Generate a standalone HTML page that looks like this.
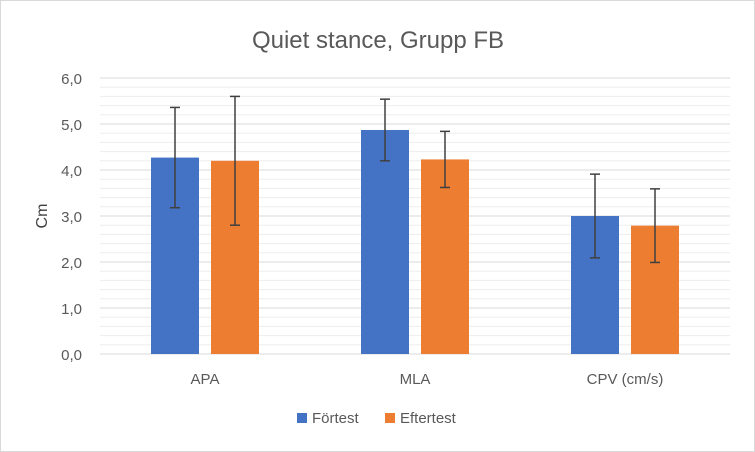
<!DOCTYPE html>
<html><head><meta charset="utf-8"><style>
body{margin:0;background:#fff}
svg{display:block;font-family:"Liberation Sans",sans-serif}
</style></head><body>
<svg id="chart" width="755" height="452">
<rect x="0.5" y="0.5" width="754" height="451" fill="#fff" stroke="#d9d9d9"/>
<text x="378" y="48" text-anchor="middle" font-size="24" fill="#595959">Quiet stance, Grupp FB</text>
<text x="0" y="0" transform="translate(47,216) rotate(-90)" text-anchor="middle" font-size="16" fill="#404040">Cm</text>
<g id="grid"></g><g id="bars"></g><g id="labels"></g>
<rect x="297" y="413" width="10" height="10" fill="#4472c4"/>
<text x="312" y="423" font-size="15" fill="#595959">Förtest</text>
<rect x="385" y="413" width="10" height="10" fill="#ed7d31"/>
<text x="400" y="423" font-size="15" fill="#595959">Eftertest</text>
</svg>
<script>
const categories=["APA","MLA","CPV (cm/s)"];
const forValues=[4.27,4.87,3.0];
const forErrors=[1.09,0.67,0.91];
const eftValues=[4.2,4.23,2.79];
const eftErrors=[1.4,0.61,0.8];
const yTicks=[0,1,2,3,4,5,6];
const NS="http://www.w3.org/2000/svg";
const x0=100,x1=730,y0=354,pxPer=46;
const y=v=>y0-v*pxPer;
const catW=(x1-x0)/categories.length;
const cx=i=>x0+catW*(i+0.5);
function mk(tag,attrs,parent){const e=document.createElementNS(NS,tag);for(const k in attrs)e.setAttribute(k,attrs[k]);parent.appendChild(e);return e;}
const grid=document.getElementById('grid'),bars=document.getElementById('bars'),labels=document.getElementById('labels');
for(let v=0;v<=30;v++){const val=v*0.2;const major=v%5===0;
 const l=mk('line',{x1:x0,x2:x1,y1:y(val),y2:y(val),stroke:major?'#d9d9d9':'#ededed','stroke-width':1},grid);
 
 }
yTicks.forEach(t=>{const tx=mk('text',{x:82,y:y(t)+6,'text-anchor':'end','font-size':15,fill:'#595959'},labels);tx.textContent=t.toFixed(1).replace('.',',');
 
 });
const bw=48;
function bar(i,val,err,dx,color,name){
 const bx=cx(i)+dx;
 const r=mk('rect',{x:bx,y:y(val),width:bw,height:y0-y(val),fill:color},bars);
 
 
 const m=bx+bw/2;
 const g=mk('g',{stroke:'#404040','stroke-width':1.5},bars);
 
 
 mk('line',{x1:m,x2:m,y1:y(val+err),y2:y(val-err)},g);
 mk('line',{x1:m-5,x2:m+5,y1:y(val+err),y2:y(val+err)},g);
 mk('line',{x1:m-5,x2:m+5,y1:y(val-err),y2:y(val-err)},g);
}
categories.forEach((c,i)=>{
 bar(i,forValues[i],forErrors[i],-54,'#4472c4','fortest');
 bar(i,eftValues[i],eftErrors[i],6,'#ed7d31','eftertest');
 const t=mk('text',{x:cx(i),y:384,'text-anchor':'middle','font-size':15,fill:'#595959'},labels);t.textContent=c;
 
 
});
const ax=mk('line',{x1:x0,x2:x1,y1:y0,y2:y0,stroke:'#d9d9d9','stroke-width':1},grid);


</script>
</body></html>
